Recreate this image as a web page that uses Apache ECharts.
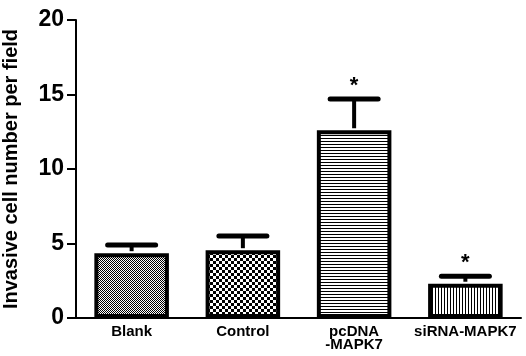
<!DOCTYPE html>
<html><head><meta charset="utf-8">
<script src="https://cdn.jsdelivr.net/npm/echarts@6/dist/echarts.min.js"></script>
<style>html,body{margin:0;padding:0;background:#fff}#c{width:526px;height:356px}</style>
</head><body><div id="c"></div>
<script>
var categories = ['Blank', 'Control', 'pcDNA\n-MAPK7', 'siRNA-MAPK7'];
var means = [4.35, 4.55, 12.6, 2.3];
var errors = [0.55, 0.95, 2.1, 0.5];
var marks = ['', '', '*', '*'];
var yTicks = [0, 5, 10, 15, 20];

function pat(kind) {
  var c = document.createElement('canvas');
  var ctx;
  if (kind === 0) {
    c.width = 2; c.height = 2; ctx = c.getContext('2d');
    ctx.fillStyle = '#fff'; ctx.fillRect(0,0,2,2);
    ctx.fillStyle = '#000'; ctx.fillRect(0,0,1,1); ctx.fillRect(1,1,1,1);
  } else if (kind === 1) {
    c.width = 6; c.height = 6; ctx = c.getContext('2d');
    ctx.fillStyle = '#fff'; ctx.fillRect(0,0,6,6);
    ctx.fillStyle = '#000'; ctx.fillRect(0,0,3,3); ctx.fillRect(3,3,3,3);
  } else if (kind === 2) {
    c.width = 3; c.height = 3; ctx = c.getContext('2d');
    ctx.fillStyle = '#fff'; ctx.fillRect(0,0,3,3);
    ctx.fillStyle = '#000'; ctx.fillRect(0,0,3,1);
  } else {
    c.width = 3; c.height = 3; ctx = c.getContext('2d');
    ctx.fillStyle = '#fff'; ctx.fillRect(0,0,3,3);
    ctx.fillStyle = '#000'; ctx.fillRect(0,0,1,3);
  }
  return {image: c, repeat: 'repeat'};
}

var barData = means.map(function (v, i) {
  return {value: v, itemStyle: {color: pat(i), borderColor: '#000', borderWidth: 4}};
});
var errData = means.map(function (v, i) { return [i, v, v + errors[i], marks[i]]; });

var chart = echarts.init(document.getElementById('c'));
chart.setOption({
  animation: false,
  grid: {left: 76, right: 5, top: 20, bottom: 38, containLabel: false, outerBoundsMode: 'none'},
  xAxis: {
    type: 'category', data: categories,
    axisLine: {lineStyle: {color: '#000', width: 2}},
    axisTick: {alignWithLabel: true, length: 6, lineStyle: {color: '#000', width: 2}},
    axisLabel: {color: '#000', fontFamily: 'Liberation Sans, Arial', fontWeight: 'bold', fontSize: 15, margin: 7, lineHeight: 13, interval: 0}
  },
  yAxis: {
    type: 'value', min: 0, max: 20, interval: 5,
    name: 'Invasive cell number per field', nameLocation: 'middle', nameGap: 55,
    nameTextStyle: {color: '#000', fontFamily: 'Liberation Sans, Arial', fontWeight: 'bold', fontSize: 20},
    axisLine: {show: true, lineStyle: {color: '#000', width: 2}},
    axisTick: {show: true, length: 9, lineStyle: {color: '#000', width: 2}},
    splitLine: {show: false},
    axisLabel: {color: '#000', fontFamily: 'Liberation Sans, Arial', fontWeight: 'bold', fontSize: 23, margin: 12,
      formatter: function (v) { return yTicks.indexOf(v) >= 0 ? String(v) : ''; }}
  },
  series: [
    {type: 'bar', data: barData, barWidth: '67%', z: 2},
    {type: 'custom', data: errData, z: 3,
      renderItem: function (params, api) {
        var p0 = api.coord([api.value(0), api.value(1)]);
        var p1 = api.coord([api.value(0), api.value(2)]);
        var cap = 24;
        var children = [
          {type: 'line', shape: {x1: p0[0], y1: p0[1] - 2, x2: p1[0], y2: p1[1]}, style: {stroke: '#000', lineWidth: 4}},
          {type: 'line', shape: {x1: p1[0] - cap, y1: p1[1], x2: p1[0] + cap, y2: p1[1]}, style: {stroke: '#000', lineWidth: 5, lineCap: 'round'}}
        ];
        var m = api.value(3);
        if (m) {
          children.push({type: 'text', style: {text: m, x: p1[0], y: p1[1] - 2, textAlign: 'center', textVerticalAlign: 'bottom',
            font: 'bold 22px Liberation Sans, Arial', fill: '#000'}});
        }
        return {type: 'group', children: children};
      }
    }
  ]
});
</script></body></html>
